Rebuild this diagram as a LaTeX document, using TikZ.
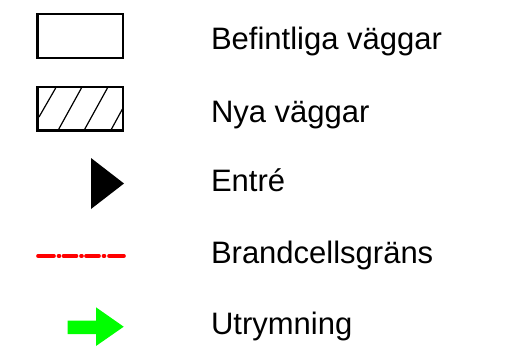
\documentclass[tikz,border=0pt]{standalone}
\usepackage{fontspec}
\setmainfont{Liberation Sans}
\definecolor{brandred}{RGB}{255,0,0}
\definecolor{exitgreen}{RGB}{0,255,0}
\tikzset{
  legendtext/.style={anchor=base west,inner sep=0pt,outer sep=0pt,font=\fontsize{31}{36}\selectfont},
  wall/.style={draw=black,line width=2.2pt,fill=white},
  hatchline/.style={draw=black,line width=1.2pt},
  firedash/.style={draw=brandred,line width=3.6pt,line cap=round},
  firedot/.style={draw=brandred,line width=3.6pt,line cap=round},
}
\begin{document}
\begin{tikzpicture}[x=1pt,y=-1pt]
\useasboundingbox (0,0) rectangle (509,356);
% existing walls
\draw[wall] (37.5,14) rectangle (123,58);
% new walls
\draw[hatchline] (39,117) -- (55.7,88);
\draw[hatchline] (58,130.5) -- (82,87);
\draw[hatchline] (84,130.5) -- (108,87);
\draw[hatchline] (110.7,130.5) -- (123,108);
\draw[wall,fill=none] (37.5,87) rectangle (123,130.5);
% entrance
\fill[black] (91,158) -- (124,183.5) -- (91,209) -- cycle;
% fire boundary
\draw[firedash] (38,256) -- (54,256);
\draw[firedot] (58.5,256) -- (59.5,256);
\draw[firedash] (63.5,256) -- (76.5,256);
\draw[firedot] (81,256) -- (82,256);
\draw[firedash] (86,256) -- (99,256);
\draw[firedot] (103.5,256) -- (104.5,256);
\draw[firedash] (109,256) -- (124,256);
% exit
\fill[exitgreen] (67.7,320.7) -- (96,320.7) -- (96,307.3) -- (123.7,326.7) -- (96,346) -- (96,334) -- (67.7,334) -- cycle;
% labels
\node[legendtext] (t1) at (211,49) {Befintliga väggar};
\node[legendtext] (t2) at (211,122) {Nya väggar};
\node[legendtext] (t3) at (211,191.5) {Entré};
\node[legendtext] (t4) at (211,263) {Brandcellsgräns};
\node[legendtext] (t5) at (211,334.5) {Utrymning};
\end{tikzpicture}
\end{document}
